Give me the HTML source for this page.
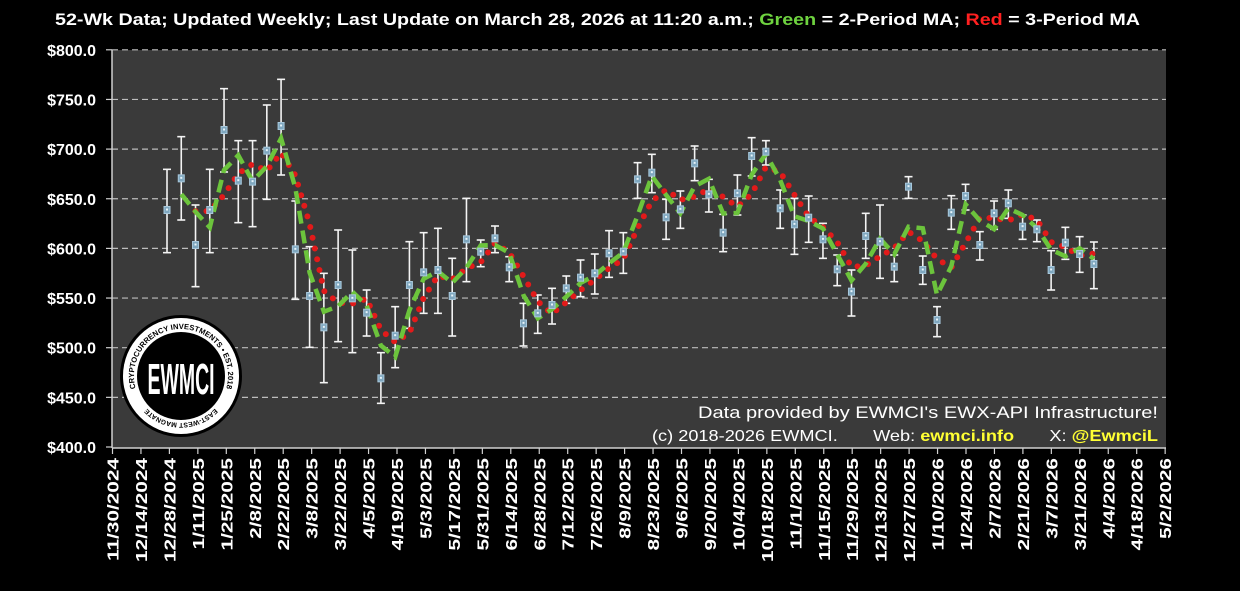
<!DOCTYPE html>
<html><head><meta charset="utf-8">
<style>
html,body{margin:0;padding:0;background:#000;}
body{width:1240px;height:586px;overflow:hidden;font-family:"Liberation Sans",sans-serif;}
svg text{font-family:"Liberation Sans",sans-serif;}
</style></head>
<body>
<svg id="c" width="1240" height="586" xmlns="http://www.w3.org/2000/svg">
<rect width="1240" height="586" fill="#000"/>
<rect x="112" y="50" width="1054" height="398" fill="#3a3a3a"/>
<g id="grid"></g>
<g id="axes"></g>
<text x="55" y="25" font-size="17" font-weight="bold" fill="#fff" textLength="1085" lengthAdjust="spacingAndGlyphs">52-Wk Data; Updated Weekly; Last Update on March 28, 2026 at 11:20 a.m.; <tspan fill="#6ed23f">Green</tspan> = 2-Period MA; <tspan fill="#ff2020">Red</tspan> = 3-Period MA</text>
<g id="logo">
<circle cx="181" cy="376" r="61" fill="#000"/>
<circle cx="181" cy="376" r="58" fill="#fff"/>
<circle cx="181" cy="376" r="44" fill="#000"/>
<path id="arcT" d="M140.3,399.5 A47,47 0 1,1 221.7,399.5" fill="none"/>
<path id="arcB" d="M217,406.2 A47,47 0 0,1 145,406.2" fill="none"/>
<text font-size="7.6" font-weight="bold" fill="#000"><textPath href="#arcT" startOffset="50%" text-anchor="middle">CRYPTOCURRENCY INVESTMENTS • EST. 2018</textPath></text>
<text font-size="6.8" font-weight="bold" fill="#000"><textPath href="#arcB" startOffset="50%" text-anchor="middle">EAST-WEST MAGNATE</textPath></text>
<text x="181" y="389" text-anchor="middle" font-size="30" font-weight="bold" fill="#fff" transform="translate(181 378) scale(0.65 1.45) translate(-181 -378)">EWMCI</text>
</g>
<g id="series"></g>
<text x="698" y="418" font-size="17" fill="#fff" textLength="460" lengthAdjust="spacingAndGlyphs">Data provided by EWMCI's EWX-API Infrastructure!</text>
<text x="652" y="441" font-size="16" fill="#fff" xml:space="preserve" textLength="506" lengthAdjust="spacingAndGlyphs">(c) 2018-2026 EWMCI.       Web: <tspan fill="#ffff33" font-weight="bold">ewmci.info</tspan>       X: <tspan fill="#ffff33" font-weight="bold">@EwmciL</tspan></text>
</svg>
<script>
var NS="http://www.w3.org/2000/svg";
function el(p,t,a,txt){var e=document.createElementNS(NS,t);for(var k in a)e.setAttribute(k,a[k]);if(txt!=null)e.textContent=txt;document.getElementById(p).appendChild(e);return e;}
function yv(v){return 447-(v-400)*0.993;}
for(var v=400;v<=800;v+=50){var y=yv(v);
 if(v>400)el("grid","line",{x1:112,x2:1166,y1:y,y2:y,stroke:"#bdbdbd","stroke-width":1.2,"stroke-dasharray":"6 4"});
 el("axes","line",{x1:106,x2:112,y1:y,y2:y,stroke:"#d0d0d0","stroke-width":1.2});
 el("axes","text",{x:96,y:y+6,"text-anchor":"end","font-size":16,"font-weight":"bold",fill:"#fff"},"$"+v.toFixed(1));
}
el("axes","line",{x1:112,x2:112,y1:50,y2:448,stroke:"#d0d0d0","stroke-width":1.5});
el("axes","line",{x1:112,x2:1166,y1:448,y2:448,stroke:"#d0d0d0","stroke-width":1.5});
var d0=new Date(2024,10,30);
for(var i=0;i<38;i++){var x=112.5+i*28.45;var d=new Date(d0.getTime()+i*14*86400000+43200000);
 var s=(d.getMonth()+1)+"/"+d.getDate()+"/"+d.getFullYear();
 el("axes","line",{x1:x,x2:x,y1:448,y2:454,stroke:"#d0d0d0","stroke-width":1.2});
 el("axes","text",{x:0,y:0,"text-anchor":"end","font-size":16,"font-weight":"bold",fill:"#fff",transform:"translate("+(x+6)+" 458) rotate(-90) scale(1.3 1)"},s);
}
var Z=[
 {ox:100,oy:40,y:[510,415,615,510,270,422,425,332,258,628,768,862,735,775,818,1015,887,735,697,690,768,598,635,595,682],
  t:[388,290,495,388,146,302,302,195,118,483,620,700,570,630,750,938,800,605,578,565,655,475,600,558,650],
  b:[638,540,740,638,396,548,560,478,405,778,922,1028,905,938,888,1090,983,865,820,820,888,725,680,638,725]},
 {ox:500,oy:100,y:[670,640,615,565,533,520,460,455,238,218,352,328,190,283,398,280,168,155,325,373,353,418,508,575],
  t:[610,585,565,528,480,462,392,398,188,163,298,273,138,238,343,225,113,122,270,295,288,370,465,510],
  b:[738,700,672,610,590,582,532,520,295,278,418,385,242,336,455,345,228,195,385,463,427,475,557,648]},
 {ox:840,oy:130,y:[318,335,410,170,420,570,248,198,345,250,220,290,298,420,338,372,402],
  t:[250,225,375,140,378,530,197,163,305,213,180,255,270,362,292,320,336],
  b:[385,445,455,205,463,620,298,240,390,298,265,328,335,480,388,427,476]}];
var P=[];
Z.forEach(function(z){for(var i=0;i<z.y.length;i++)P.push({y:z.oy+z.y[i]/3,t:z.oy+z.t[i]/3,b:z.oy+z.b[i]/3});});
var X=function(i){return 167+i*14.26;};
var g="",r="";
for(var i=1;i<P.length;i++){var m=(P[i].y+P[i-1].y)/2;g+=(i==1?"M":"L")+X(i).toFixed(1)+","+m.toFixed(1);}
for(var i=2;i<P.length;i++){var m=(P[i].y+P[i-1].y+P[i-2].y)/3;r+=(i==2?"M":"L")+X(i).toFixed(1)+","+m.toFixed(1);}
P.forEach(function(p,i){var x=X(i);
 el("series","line",{x1:x,x2:x,y1:p.t,y2:p.b,stroke:"#f4f4f4","stroke-width":1.6});
 el("series","line",{x1:x-4,x2:x+4,y1:p.t,y2:p.t,stroke:"#f4f4f4","stroke-width":1.6});
 el("series","line",{x1:x-4,x2:x+4,y1:p.b,y2:p.b,stroke:"#f4f4f4","stroke-width":1.6});
});
el("series","path",{d:r,fill:"none",stroke:"#e21a1a","stroke-width":6,"stroke-linecap":"round","stroke-dasharray":"0 11"});
el("series","path",{d:g,fill:"none",stroke:"#6cc43c","stroke-width":4.5,"stroke-dasharray":"13 7"});
P.forEach(function(p,i){var x=X(i);
 el("series","rect",{x:x-3,y:p.y-3.5,width:6,height:7,fill:"#7fa7bf",stroke:"#a8c8dc","stroke-width":1});
 el("series","rect",{x:x-1,y:p.y-1.5,width:2,height:2,fill:"#e8f4fa"});
});
</script>
</body></html>
